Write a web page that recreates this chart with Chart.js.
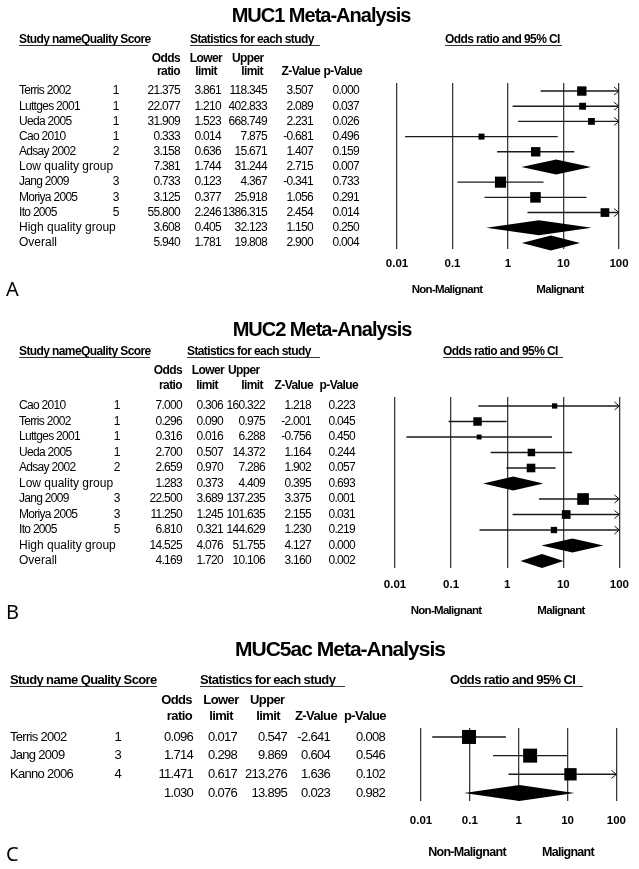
<!DOCTYPE html>
<html>
<head>
<meta charset="utf-8">
<script src="https://cdn.jsdelivr.net/npm/chart.js@4/dist/chart.umd.min.js"></script>
<style>
  body { margin: 0; background: #fff; }
  #page { position: relative; width: 639px; height: 869px; }
  canvas { position: absolute; left: 0; }
</style>
</head>
<body>
<div id="page">
  <canvas id="muc1" width="639" height="300" style="top:0px"></canvas>
  <canvas id="muc2" width="639" height="320" style="top:300px"></canvas>
  <canvas id="muc5ac" width="639" height="249" style="top:620px"></canvas>
</div>
<script>
// ---- MUC1 ----
var muc1Studies = ['Terris 2002', 'Luttges 2001', 'Ueda 2005', 'Cao 2010', 'Adsay 2002', 'Low quality group',
                   'Jang 2009', 'Moriya 2005', 'Ito 2005', 'High quality group', 'Overall'];
var muc1Quality = ['1', '1', '1', '1', '2', '', '3', '3', '5', '', ''];
var muc1OddsRatio = [21.375, 22.077, 31.909, 0.333, 3.158, 7.381, 0.733, 3.125, 55.800, 3.608, 5.940];
var muc1Lower = [3.861, 1.210, 1.523, 0.014, 0.636, 1.744, 0.123, 0.377, 2.246, 0.405, 1.781];
var muc1Upper = [118.345, 402.833, 668.749, 7.875, 15.671, 31.244, 4.367, 25.918, 1386.315, 32.123, 19.808];
var muc1Z = [3.507, 2.089, 2.231, -0.681, 1.407, 2.715, -0.341, 1.056, 2.454, 1.150, 2.900];
var muc1P = [0.000, 0.037, 0.026, 0.496, 0.159, 0.007, 0.733, 0.291, 0.014, 0.250, 0.004];
var muc1Summary = [0, 0, 0, 0, 0, 1, 0, 0, 0, 1, 1];
var muc1Weight = [22, 12, 11.5, 9, 22, 0, 31, 28, 19, 0, 0];   // relative weight (box area)

// ---- MUC2 ----
var muc2Studies = ['Cao 2010', 'Terris 2002', 'Luttges 2001', 'Ueda 2005', 'Adsay 2002', 'Low quality group',
                   'Jang 2009', 'Moriya 2005', 'Ito 2005', 'High quality group', 'Overall'];
var muc2Quality = ['1', '1', '1', '1', '2', '', '3', '3', '5', '', ''];
var muc2OddsRatio = [7.000, 0.296, 0.316, 2.700, 2.659, 1.283, 22.500, 11.250, 6.810, 14.525, 4.169];
var muc2Lower = [0.306, 0.090, 0.016, 0.507, 0.970, 0.373, 3.689, 1.245, 0.321, 4.076, 1.720];
var muc2Upper = [160.322, 0.975, 6.288, 14.372, 7.286, 4.409, 137.235, 101.635, 144.629, 51.755, 10.106];
var muc2Z = [1.218, -2.001, -0.756, 1.164, 1.902, 0.395, 3.375, 2.155, 1.230, 4.127, 3.160];
var muc2P = [0.223, 0.045, 0.450, 0.244, 0.057, 0.693, 0.001, 0.031, 0.219, 0.000, 0.002];
var muc2Summary = [0, 0, 0, 0, 0, 1, 0, 0, 0, 1, 1];
var muc2Weight = [7, 18, 6, 14, 18.5, 0, 34, 19, 10, 0, 0];

// ---- MUC5ac ----
var muc5acStudies = ['Terris 2002', 'Jang 2009', 'Kanno 2006', ''];
var muc5acQuality = ['1', '3', '4', ''];
var muc5acOddsRatio = [0.096, 1.714, 11.471, 1.030];
var muc5acLower = [0.017, 0.298, 0.617, 0.076];
var muc5acUpper = [0.547, 9.869, 213.276, 13.895];
var muc5acZ = [-2.641, 0.604, 1.636, 0.023];
var muc5acP = [0.008, 0.546, 0.102, 0.982];
var muc5acSummary = [0, 0, 0, 1];
var muc5acWeight = [49, 49, 38, 0];

var axisTicks = [0.01, 0.1, 1, 10, 100];

var FAM = '"Liberation Sans", Arial, sans-serif';

function txt(ctx, s, x, y, align, font, spacing) {
    ctx.font = font;
    ctx.letterSpacing = spacing || '0px';
    ctx.textAlign = align;
    ctx.textBaseline = 'middle';
    ctx.fillStyle = '#000';
    ctx.fillText(s, x, y);
}

function forestPlugin(rows, L) {
    return {
        id: 'forest',
        beforeDatasetsDraw: function(chart) {
            var ctx = chart.ctx, xs = chart.scales.x, ys = chart.scales.y;
            var xMin = xs.getPixelForValue(0.01), xMax = xs.getPixelForValue(100);
            ctx.save();
            for (var i = 0; i < rows.names.length; i++) {
                var y = ys.getPixelForValue(i);
                var x0 = xs.getPixelForValue(rows.lower[i]);
                var x1 = xs.getPixelForValue(rows.upper[i]);
                var xc = xs.getPixelForValue(rows.or[i]);
                ctx.fillStyle = '#000';
                ctx.strokeStyle = '#1a1a1a';
                if (rows.summary[i]) {
                    ctx.beginPath();
                    ctx.moveTo(x0, y);
                    ctx.lineTo(xc, y - L.diamond);
                    ctx.lineTo(x1, y);
                    ctx.lineTo(xc, y + L.diamond);
                    ctx.closePath();
                    ctx.fill();
                    continue;
                }
                var a = Math.max(x0, xMin), b = Math.min(x1, xMax);
                ctx.lineWidth = 1.4;
                ctx.beginPath();
                ctx.moveTo(a, y);
                ctx.lineTo(b, y);
                ctx.stroke();
                if (x1 > xMax) {
                    ctx.lineWidth = 1;
                    ctx.beginPath();
                    ctx.moveTo(xMax - 5, y - 4);
                    ctx.lineTo(xMax, y);
                    ctx.lineTo(xMax - 5, y + 4);
                    ctx.stroke();
                }
            }
            ctx.restore();
        },
        afterDraw: function(chart) {
            var ctx = chart.ctx, ys = chart.scales.y;
            var fs = L.fontSize;
            var body = fs + 'px ' + FAM, bold = 'bold ' + fs + 'px ' + FAM;
            ctx.save();
            // title and panel letter
            txt(ctx, L.title, L.titleX, L.titleY, 'center', 'bold ' + L.titleSize + 'px ' + FAM, '-1px');
            txt(ctx, L.letter, 6, L.letterY, 'left', '20px "Noto Sans", sans-serif');
            // group headers with underline
            L.heads.forEach(function(h) {
                txt(ctx, h[0], h[1], L.headY, 'left', bold, '-0.6px');
                ctx.strokeStyle = '#333';
                ctx.lineWidth = 1;
                ctx.beginPath();
                ctx.moveTo(h[3] || h[1], L.lineY + 0.5);
                ctx.lineTo(h[2], L.lineY + 0.5);
                ctx.stroke();
            });
            // column headers
            L.colHeads.forEach(function(h) {
                txt(ctx, h[0], h[1], L.colY[h[2]], h[3], bold, '-0.6px');
            });
            // table rows
            for (var i = 0; i < rows.names.length; i++) {
                var y = ys.getPixelForValue(i);
                var grp = rows.summary[i] === 1;
                txt(ctx, rows.names[i], L.nameX, y, 'left', body, grp ? '0px' : '-0.7px');
                txt(ctx, rows.quality[i], L.qualityX, y, 'center', body);
                var vals = [rows.or[i], rows.lower[i], rows.upper[i], rows.z[i], rows.p[i]];
                for (var c = 0; c < vals.length; c++) {
                    txt(ctx, vals[c].toFixed(3), L.cols[c], y, 'right', body, '-0.7px');
                }
            }
            // direction labels
            var small = 'bold ' + (fs - 0.5) + 'px ' + FAM;
            txt(ctx, 'Non-Malignant', L.sideX[0], L.sideY, 'center', small, '-0.7px');
            txt(ctx, 'Malignant', L.sideX[1], L.sideY, 'center', small, '-0.7px');
            ctx.restore();
        }
    };
}

function buildChart(id, rows, L) {
    var pts = [], radii = [];
    for (var i = 0; i < rows.names.length; i++) {
        if (!rows.summary[i]) {
            pts.push({ x: rows.or[i], y: i });
            radii.push(Math.sqrt(rows.weight[i]) * Math.SQRT2);
        }
    }
    var canvas = document.getElementById(id);
    return new Chart(canvas.getContext('2d'), {
        type: 'scatter',
        data: {
            datasets: [{
                data: pts,
                pointStyle: 'rect',
                pointRadius: radii,
                pointHoverRadius: radii,
                backgroundColor: '#000',
                borderColor: '#000',
                borderWidth: 0,
                clip: false
            }]
        },
        options: {
            responsive: false,
            animation: false,
            events: [],
            layout: {
                padding: {
                    left: L.area.left,
                    right: canvas.width - L.area.right,
                    top: L.area.top,
                    bottom: canvas.height - L.area.bottom - 30
                }
            },
            plugins: { legend: { display: false }, tooltip: { enabled: false } },
            scales: {
                x: {
                    type: 'logarithmic',
                    min: 0.01,
                    max: 100,
                    afterBuildTicks: function(scale) {
                        scale.ticks = axisTicks.map(function(v) { return { value: v }; });
                    },
                    afterFit: function(scale) { scale.height = 30; },
                    ticks: {
                        padding: L.tickPad,
                        maxRotation: 0,
                        color: '#000',
                        font: { family: FAM, size: 11.5, weight: 'bold' },
                        callback: function(v) { return String(v); }
                    },
                    grid: { color: '#3a3a3a', lineWidth: 1.3, drawTicks: false },
                    border: { display: false }
                },
                y: {
                    display: false,
                    reverse: true,
                    min: L.rowMin,
                    max: L.rowMax
                }
            }
        },
        plugins: [forestPlugin(rows, L)]
    });
}

buildChart('muc1', {
    names: muc1Studies, quality: muc1Quality, or: muc1OddsRatio, lower: muc1Lower, upper: muc1Upper,
    z: muc1Z, p: muc1P, summary: muc1Summary, weight: muc1Weight
}, {
    title: 'MUC1 Meta-Analysis', titleX: 321, titleY: 16, titleSize: 20,
    letter: 'A', letterY: 290,
    headY: 40, lineY: 45,
    heads: [['Study nameQuality Score', 19, 148], ['Statistics for each study', 190, 320], ['Odds ratio and 95% CI', 445, 562]],
    colY: [59, 72],
    colHeads: [['Odds', 180, 0, 'right'], ['ratio', 180, 1, 'right'], ['Lower', 206, 0, 'center'], ['limit', 206, 1, 'center'],
               ['Upper', 232, 0, 'left'], ['limit', 263, 1, 'right'], ['Z-Value', 320, 1, 'right'], ['p-Value', 362, 1, 'right']],
    nameX: 19, qualityX: 116, cols: [180, 221, 267, 313, 359],
    area: { left: 397, right: 619, top: 83, bottom: 249 }, rowMin: -0.53, rowMax: 10.4,
    tickPad: 8, diamond: 7.5, sideX: [447, 560], sideY: 290, fontSize: 12
});

buildChart('muc2', {
    names: muc2Studies, quality: muc2Quality, or: muc2OddsRatio, lower: muc2Lower, upper: muc2Upper,
    z: muc2Z, p: muc2P, summary: muc2Summary, weight: muc2Weight
}, {
    title: 'MUC2 Meta-Analysis', titleX: 322, titleY: 30, titleSize: 20,
    letter: 'B', letterY: 313,
    headY: 52, lineY: 57,
    heads: [['Study nameQuality Score', 19, 150], ['Statistics for each study', 187, 320], ['Odds ratio and 95% CI', 443, 563]],
    colY: [71, 86],
    colHeads: [['Odds', 182, 0, 'right'], ['ratio', 182, 1, 'right'], ['Lower', 208, 0, 'center'], ['limit', 207, 1, 'center'],
               ['Upper', 228, 0, 'left'], ['limit', 263, 1, 'right'], ['Z-Value', 313, 1, 'right'], ['p-Value', 358, 1, 'right']],
    nameX: 19, qualityX: 117, cols: [182, 223, 265, 311, 355],
    area: { left: 395, right: 622, top: 97, bottom: 268 }, rowMin: -0.58, rowMax: 10.45,
    tickPad: 10, diamond: 7, sideX: [446, 561], sideY: 311, fontSize: 12
});

buildChart('muc5ac', {
    names: muc5acStudies, quality: muc5acQuality, or: muc5acOddsRatio, lower: muc5acLower, upper: muc5acUpper,
    z: muc5acZ, p: muc5acP, summary: muc5acSummary, weight: muc5acWeight
}, {
    title: 'MUC5ac Meta-Analysis', titleX: 340, titleY: 30, titleSize: 21,
    letter: 'C', letterY: 235,
    headY: 60, lineY: 66,
    heads: [['Study name Quality Score', 10, 157], ['Statistics for each study', 200, 345], ['Odds ratio and 95% CI', 450, 583, 460]],
    colY: [80, 96],
    colHeads: [['Odds', 192, 0, 'right'], ['ratio', 192, 1, 'right'], ['Lower', 221, 0, 'center'], ['limit', 221, 1, 'center'],
               ['Upper', 250, 0, 'left'], ['limit', 280, 1, 'right'], ['Z-Value', 295, 1, 'left'], ['p-Value', 386, 1, 'right']],
    nameX: 10, qualityX: 118, cols: [193, 237, 287, 330, 385],
    area: { left: 421, right: 621, top: 108, bottom: 181 }, rowMin: -0.48, rowMax: 3.43,
    tickPad: 13, diamond: 8, sideX: [467, 568], sideY: 233, fontSize: 13
});
</script>
</body>
</html>
